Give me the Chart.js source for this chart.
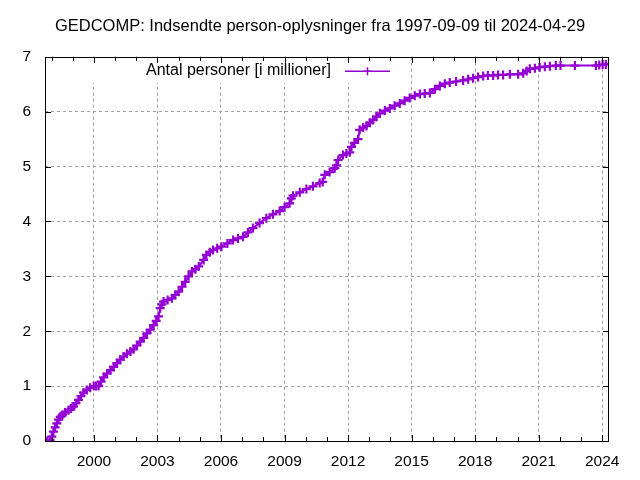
<!DOCTYPE html>
<html>
<head>
<meta charset="utf-8">
<script src="https://cdn.jsdelivr.net/npm/chart.js@4"></script>
<style>
  html, body { margin: 0; padding: 0; background: #fff; }
</style>
</head>
<body>
<canvas id="gedcompChart" width="640" height="480"></canvas>
<script>
// decimal year of each upload, and total persons in millions
const years = [
  1997.69, 1997.80, 1997.93, 1998.01, 1998.09, 1998.17, 1998.25, 1998.33, 1998.41, 1998.52,
  1998.64, 1998.80, 1998.92, 1999.04, 1999.15, 1999.27, 1999.39, 1999.51, 1999.66, 1999.82,
  1999.99, 2000.10, 2000.22, 2000.34, 2000.46, 2000.62, 2000.78, 2000.93, 2001.09, 2001.24,
  2001.40, 2001.56, 2001.72, 2001.87, 2002.03, 2002.19, 2002.35, 2002.50, 2002.66, 2002.82,
  2002.94, 2003.05, 2003.13, 2003.21, 2003.29, 2003.48, 2003.68, 2003.84, 2004.00, 2004.16,
  2004.31, 2004.47, 2004.63, 2004.79, 2004.95, 2005.18, 2005.31, 2005.47, 2005.62, 2005.82,
  2006.02, 2006.30, 2006.57, 2006.80, 2007.04, 2007.27, 2007.51, 2007.82, 2008.14, 2008.45,
  2008.77, 2009.00, 2009.24, 2009.32, 2009.40, 2009.72, 2010.03, 2010.34, 2010.66, 2010.80,
  2010.90, 2011.13, 2011.37, 2011.45, 2011.53, 2011.76, 2011.92, 2012.08, 2012.16, 2012.30,
  2012.47, 2012.55, 2012.71, 2012.87, 2013.03, 2013.18, 2013.34, 2013.50, 2013.74, 2013.97,
  2014.20, 2014.44, 2014.67, 2014.91, 2015.15, 2015.39, 2015.62, 2015.86, 2016.10, 2016.33,
  2016.57, 2016.80, 2017.10, 2017.43, 2017.67, 2017.90, 2018.14, 2018.38, 2018.60, 2018.85,
  2019.08, 2019.32, 2019.64, 2020.03, 2020.27, 2020.43, 2020.58, 2020.82, 2021.05, 2021.29,
  2021.53, 2021.81, 2022.03, 2022.71, 2023.70, 2023.86, 2024.02, 2024.17, 2024.32
];
const persons = [
  0.00, 0.00, 0.02, 0.08, 0.17, 0.25, 0.32, 0.39, 0.44, 0.48,
  0.52, 0.56, 0.59, 0.63, 0.69, 0.75, 0.82, 0.88, 0.93, 0.97,
  1.00, 1.00, 1.00, 1.08, 1.16, 1.23, 1.29, 1.35, 1.42, 1.48,
  1.54, 1.59, 1.63, 1.67, 1.74, 1.81, 1.88, 1.96, 2.03, 2.11,
  2.19, 2.27, 2.42, 2.49, 2.54, 2.57, 2.60, 2.66, 2.72, 2.81,
  2.90, 3.00, 3.09, 3.13, 3.18, 3.30, 3.39, 3.44, 3.48, 3.51,
  3.54, 3.60, 3.66, 3.69, 3.72, 3.80, 3.88, 3.97, 4.06, 4.13,
  4.19, 4.26, 4.33, 4.42, 4.47, 4.53, 4.59, 4.64, 4.70, 4.72,
  4.85, 4.90, 4.97, 5.02, 5.12, 5.21, 5.24, 5.26, 5.36, 5.43,
  5.50, 5.67, 5.71, 5.74, 5.80, 5.85, 5.91, 5.97, 6.02, 6.06,
  6.11, 6.15, 6.20, 6.25, 6.29, 6.32, 6.33, 6.34, 6.41, 6.47,
  6.51, 6.53, 6.55, 6.57, 6.59, 6.61, 6.63, 6.65, 6.66, 6.66,
  6.67, 6.67, 6.68, 6.68, 6.70, 6.74, 6.78, 6.79, 6.81, 6.82,
  6.83, 6.84, 6.84, 6.84, 6.84, 6.85, 6.86, 6.86, 6.87
];
const yearTicks = [1998, 1999, 2000, 2001, 2002, 2003, 2004, 2005, 2006, 2007, 2008, 2009,
  2010, 2011, 2012, 2013, 2014, 2015, 2016, 2017, 2018, 2019, 2020, 2021, 2022, 2023, 2024];
const labelledYears = [2000, 2003, 2006, 2009, 2012, 2015, 2018, 2021, 2024];
const valueTicks = [0, 1, 2, 3, 4, 5, 6, 7];

const seriesLabel = "Antal personer [i millioner]";
const titleText = "GEDCOMP: Indsendte person-oplysninger fra 1997-09-09 til 2024-04-29";
const purple = "#9400d3";
const gridGray = "#a0a0a0";
const fontFamily = "'Liberation Sans', Arial, sans-serif";

const points = years.map((y, i) => ({ x: y, y: persons[i] }));

function drawPlus(ctx, x, y, r) {
  ctx.beginPath();
  ctx.moveTo(x - r, y);
  ctx.lineTo(x + r, y);
  ctx.moveTo(x, y - r);
  ctx.lineTo(x, y + r);
  ctx.stroke();
}

// key box inside the plot, like gnuplot: blanks the grid behind it
const insideKey = {
  id: "insideKey",
  beforeDatasetsDraw(chart) {
    const ctx = chart.ctx;
    const top = chart.chartArea.top;
    ctx.save();
    ctx.fillStyle = "#fff";
    ctx.fillRect(89, top + 1, 310, 25);
    ctx.fillStyle = "#000";
    ctx.font = "16px " + fontFamily;
    ctx.textAlign = "right";
    ctx.textBaseline = "middle";
    ctx.fillText(chart.data.datasets[0].label, 331, top + 14);
    ctx.strokeStyle = purple;
    ctx.lineWidth = 1.5;
    ctx.beginPath();
    ctx.moveTo(345, top + 14.5);
    ctx.lineTo(390, top + 14.5);
    ctx.stroke();
    drawPlus(ctx, 367.5, top + 14.5, 4);
    ctx.restore();
  }
};

// full border with inward ticks on all four sides
const frame = {
  id: "frame",
  afterDraw(chart) {
    const { ctx, chartArea: a, scales } = chart;
    ctx.save();
    ctx.strokeStyle = "#000";
    ctx.lineWidth = 1;
    ctx.strokeRect(Math.round(a.left) + 0.5, Math.round(a.top) + 0.5,
      Math.round(a.right - a.left) - 1, Math.round(a.bottom - a.top));
    ctx.beginPath();
    yearTicks.forEach(yr => {
      const px = Math.round(scales.x.getPixelForValue(yr)) + 0.5;
      const len = labelledYears.includes(yr) ? 6 : 4;
      ctx.moveTo(px, a.bottom);
      ctx.lineTo(px, a.bottom - len);
      ctx.moveTo(px, a.top);
      ctx.lineTo(px, a.top + len);
    });
    valueTicks.forEach(v => {
      const py = Math.round(scales.y.getPixelForValue(v)) + 0.5;
      ctx.moveTo(a.left, py);
      ctx.lineTo(a.left + 6, py);
      ctx.moveTo(a.right, py);
      ctx.lineTo(a.right - 6, py);
    });
    ctx.stroke();
    ctx.restore();
  }
};

new Chart(document.getElementById("gedcompChart"), {
  type: "line",
  data: {
    datasets: [
      {
        label: seriesLabel,
        data: points,
        borderColor: purple,
        backgroundColor: purple,
        borderWidth: 2,
        pointStyle: "cross",
        pointRadius: 4.5,
        pointBorderWidth: 2.2,
        pointHoverRadius: 4.5,
        tension: 0,
        fill: false
      }
    ]
  },
  options: {
    responsive: false,
    animation: false,
    events: [],
    layout: { padding: 0 },
    plugins: {
      legend: { display: false },
      tooltip: { enabled: false },
      title: {
        display: true,
        text: titleText,
        color: "#000",
        font: { family: fontFamily, size: 16.5, weight: "normal", lineHeight: 1.2 },
        padding: { top: 17, bottom: 20 }
      }
    },
    scales: {
      x: {
        type: "linear",
        min: 1997.69,
        max: 2024.32,
        afterBuildTicks: s => { s.ticks = yearTicks.map(v => ({ value: v })); },
        afterFit: s => { s.height = 39; },
        ticks: {
          autoSkip: false,
          maxRotation: 0,
          padding: 11,
          color: "#000",
          font: { family: fontFamily, size: 15.5 },
          callback: v => labelledYears.includes(v) ? String(v) : ""
        },
        grid: {
          drawTicks: false,
          lineWidth: 1,
          color: c => (c.tick && labelledYears.includes(c.tick.value)) ? gridGray : "rgba(0,0,0,0)"
        },
        border: { display: false, dash: [3, 3] }
      },
      y: {
        min: 0,
        max: 7,
        afterBuildTicks: s => { s.ticks = valueTicks.map(v => ({ value: v })); },
        afterFit: s => { s.width = 45; },
        ticks: {
          padding: 14,
          color: "#000",
          font: { family: fontFamily, size: 15.5 }
        },
        grid: {
          drawTicks: false,
          lineWidth: 1,
          color: c => (c.tick && c.tick.value > 0 && c.tick.value < 7) ? gridGray : "rgba(0,0,0,0)"
        },
        border: { display: false, dash: [3, 3] }
      },
      // empty right-hand margin, keeps the title centred on the page
      yRight: {
        position: "right",
        min: 0,
        max: 7,
        afterFit: s => { s.width = 31; },
        ticks: { display: false },
        grid: { display: false, drawOnChartArea: false },
        border: { display: false }
      }
    }
  },
  plugins: [insideKey, frame]
});
</script>
</body>
</html>
